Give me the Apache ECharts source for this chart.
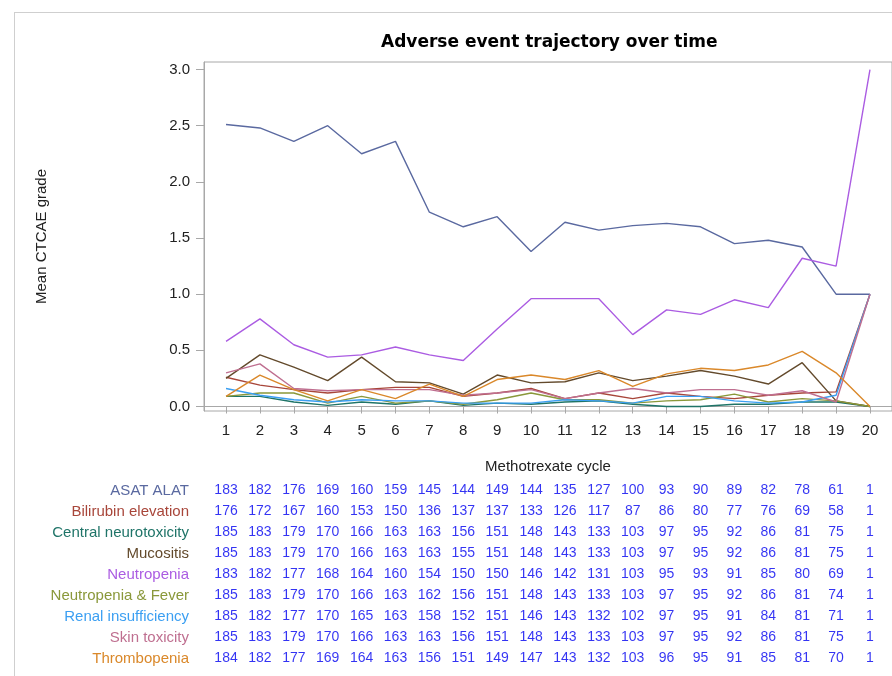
<!DOCTYPE html>
<html>
<head>
<meta charset="utf-8">
<script src="https://cdn.jsdelivr.net/npm/echarts@6/dist/echarts.min.js"></script>
<style>
  html, body { margin: 0; padding: 0; background: #fff; }
  #chart { width: 892px; height: 676px; }
</style>
</head>
<body>
<div id="chart"></div>
<script>
// cycles and y ticks
var cycles = [1, 2, 3, 4, 5, 6, 7, 8, 9, 10, 11, 12, 13, 14, 15, 16, 17, 18, 19, 20];
var gradeTicks = [0, 0.5, 1, 1.5, 2, 2.5, 3];
var eventNames = ['ASAT ALAT', 'Bilirubin elevation', 'Central neurotoxicity', 'Mucositis', 'Neutropenia',
                  'Neutropenia & Fever', 'Renal insufficiency', 'Skin toxicity', 'Thrombopenia'];
var eventColors = ['#5a69a0', '#a8463a', '#1f7468', '#634a2c', '#ab5ce2', '#8a983a', '#3b9ff2', '#bf6f90', '#da882a'];

// mean CTCAE grade per cycle
var asatMean      = [2.51, 2.48, 2.36, 2.50, 2.25, 2.36, 1.73, 1.60, 1.69, 1.38, 1.64, 1.57, 1.61, 1.63, 1.60, 1.45, 1.48, 1.42, 1.00, 1.00];
var bilirubinMean = [0.26, 0.19, 0.15, 0.12, 0.15, 0.17, 0.17, 0.09, 0.12, 0.16, 0.07, 0.12, 0.07, 0.12, 0.09, 0.07, 0.10, 0.12, 0.13, 1.00];
var neuroMean     = [0.09, 0.09, 0.04, 0.01, 0.04, 0.02, 0.05, 0.01, 0.03, 0.02, 0.04, 0.05, 0.02, 0.00, 0.00, 0.02, 0.02, 0.04, 0.04, 0.00];
var mucositisMean = [0.25, 0.46, 0.35, 0.23, 0.44, 0.22, 0.21, 0.11, 0.28, 0.21, 0.22, 0.30, 0.23, 0.27, 0.32, 0.27, 0.20, 0.39, 0.05, 0.00];
var neutroMean    = [0.58, 0.78, 0.55, 0.44, 0.46, 0.53, 0.46, 0.41, 0.69, 0.96, 0.96, 0.96, 0.64, 0.86, 0.82, 0.95, 0.88, 1.32, 1.25, 3.00];
var feverMean     = [0.09, 0.12, 0.12, 0.03, 0.09, 0.03, 0.05, 0.02, 0.06, 0.12, 0.06, 0.06, 0.03, 0.05, 0.06, 0.11, 0.04, 0.07, 0.05, 0.00];
var renalMean     = [0.16, 0.10, 0.06, 0.04, 0.06, 0.05, 0.05, 0.03, 0.03, 0.03, 0.06, 0.05, 0.03, 0.09, 0.09, 0.05, 0.03, 0.04, 0.10, 1.00];
var skinMean      = [0.30, 0.38, 0.16, 0.14, 0.15, 0.15, 0.15, 0.10, 0.12, 0.15, 0.07, 0.12, 0.16, 0.12, 0.15, 0.15, 0.10, 0.14, 0.04, 1.00];
var thromboMean   = [0.09, 0.28, 0.15, 0.05, 0.15, 0.07, 0.20, 0.09, 0.24, 0.28, 0.24, 0.32, 0.18, 0.29, 0.34, 0.32, 0.37, 0.49, 0.30, 0.00];

// patients at risk per cycle
var asatN      = [183, 182, 176, 169, 160, 159, 145, 144, 149, 144, 135, 127, 100, 93, 90, 89, 82, 78, 61, 1];
var bilirubinN = [176, 172, 167, 160, 153, 150, 136, 137, 137, 133, 126, 117, 87, 86, 80, 77, 76, 69, 58, 1];
var neuroN     = [185, 183, 179, 170, 166, 163, 163, 156, 151, 148, 143, 133, 103, 97, 95, 92, 86, 81, 75, 1];
var mucositisN = [185, 183, 179, 170, 166, 163, 163, 155, 151, 148, 143, 133, 103, 97, 95, 92, 86, 81, 75, 1];
var neutroN    = [183, 182, 177, 168, 164, 160, 154, 150, 150, 146, 142, 131, 103, 95, 93, 91, 85, 80, 69, 1];
var feverN     = [185, 183, 179, 170, 166, 163, 162, 156, 151, 148, 143, 133, 103, 97, 95, 92, 86, 81, 74, 1];
var renalN     = [185, 182, 177, 170, 165, 163, 158, 152, 151, 146, 143, 132, 102, 97, 95, 91, 84, 81, 71, 1];
var skinN      = [185, 183, 179, 170, 166, 163, 163, 156, 151, 148, 143, 133, 103, 97, 95, 92, 86, 81, 75, 1];
var thromboN   = [184, 182, 177, 169, 164, 163, 156, 151, 149, 147, 143, 132, 103, 96, 95, 91, 85, 81, 70, 1];

var means = [asatMean, bilirubinMean, neuroMean, mucositisMean, neutroMean, feverMean, renalMean, skinMean, thromboMean];
var counts = [asatN, bilirubinN, neuroN, mucositisN, neutroN, feverN, renalN, skinN, thromboN];

var font = '"Liberation Sans", Arial, sans-serif';
var myChart = echarts.init(document.getElementById('chart'));

var series = [];
means.forEach(function (vals, i) {
  series.push({
    name: eventNames[i],
    type: 'line',
    xAxisIndex: 0,
    yAxisIndex: 0,
    showSymbol: false,
    symbol: 'none',
    silent: true,
    lineStyle: { width: 1.4, color: eventColors[i] },
    itemStyle: { color: eventColors[i] },
    data: vals.map(function (v, j) { return [cycles[j], v]; })
  });
});

// at-risk table, placed on its own grid with the same x scale
var tableData = [];
counts.forEach(function (row, i) {
  row.forEach(function (n, j) {
    tableData.push([cycles[j], i, n]);
  });
});
series.push({
  type: 'scatter',
  xAxisIndex: 1,
  yAxisIndex: 1,
  symbol: 'circle',
  symbolSize: 1,
  silent: true,
  itemStyle: { color: 'rgba(0,0,0,0)' },
  label: {
    show: true,
    position: 'inside',
    formatter: function (p) { return String(p.value[2]); },
    color: '#0000f0',
    fontSize: 14,
    fontFamily: font
  },
  labelLayout: { hideOverlap: false },
  data: tableData
});

var option = {
  animation: false,
  backgroundColor: '#fff',
  title: {
    text: 'Adverse event trajectory over time',
    left: 376,
    top: 29,
    textStyle: { fontSize: 17, fontWeight: 'bold', color: '#000', fontFamily: '"DejaVu Sans", sans-serif' }
  },
  graphic: [
    { type: 'line', shape: { x1: 14, y1: 12.5, x2: 892, y2: 12.5 }, style: { stroke: '#cfcfcf', lineWidth: 1 } },
    { type: 'line', shape: { x1: 14.5, y1: 12, x2: 14.5, y2: 676 }, style: { stroke: '#cfcfcf', lineWidth: 1 } }
  ],
  grid: [
    { left: 204, top: 62, width: 690, height: 349, show: true, borderColor: '#a8a8a8', borderWidth: 1, backgroundColor: '#fff' },
    { left: 204, top: 480, width: 690, height: 189 }
  ],
  xAxis: [
    {
      type: 'value',
      gridIndex: 0,
      min: 0.35,
      max: 20.65,
      name: 'Methotrexate cycle',
      nameLocation: 'middle',
      nameGap: 48,
      nameTextStyle: { fontSize: 15, color: '#222', fontFamily: font },
      axisLine: { show: true, lineStyle: { color: '#a8a8a8' } },
      axisTick: { show: true, length: 7, customValues: cycles, lineStyle: { color: '#a8a8a8' } },
      axisLabel: { customValues: cycles, fontSize: 15, color: '#222', margin: 12, fontFamily: font },
      splitLine: { show: false }
    },
    {
      type: 'value',
      gridIndex: 1,
      min: 0.35,
      max: 20.65,
      axisLine: { show: false },
      axisTick: { show: false },
      axisLabel: { show: false },
      splitLine: { show: false }
    }
  ],
  yAxis: [
    {
      type: 'value',
      gridIndex: 0,
      min: -0.04,
      max: 3.067,
      name: 'Mean CTCAE grade',
      nameLocation: 'middle',
      nameRotate: 90,
      nameGap: 155,
      nameTextStyle: { fontSize: 15, color: '#222', fontFamily: font },
      axisLine: { show: true, lineStyle: { color: '#a8a8a8' } },
      axisTick: { show: true, length: 8, customValues: gradeTicks, lineStyle: { color: '#a8a8a8' } },
      axisLabel: {
        customValues: gradeTicks,
        fontSize: 15,
        color: '#222',
        margin: 14,
        fontFamily: font,
        formatter: function (v) { return v.toFixed(1); }
      },
      splitLine: { show: false }
    },
    {
      type: 'category',
      gridIndex: 1,
      inverse: true,
      data: eventNames,
      axisLine: { show: false },
      axisTick: { show: false },
      axisLabel: {
        fontSize: 15,
        margin: 15,
        fontFamily: font,
        color: function (value, index) { return eventColors[eventNames.indexOf(value)]; }
      },
      splitLine: { show: false }
    }
  ],
  series: series
};

myChart.setOption(option);
</script>
</body>
</html>
